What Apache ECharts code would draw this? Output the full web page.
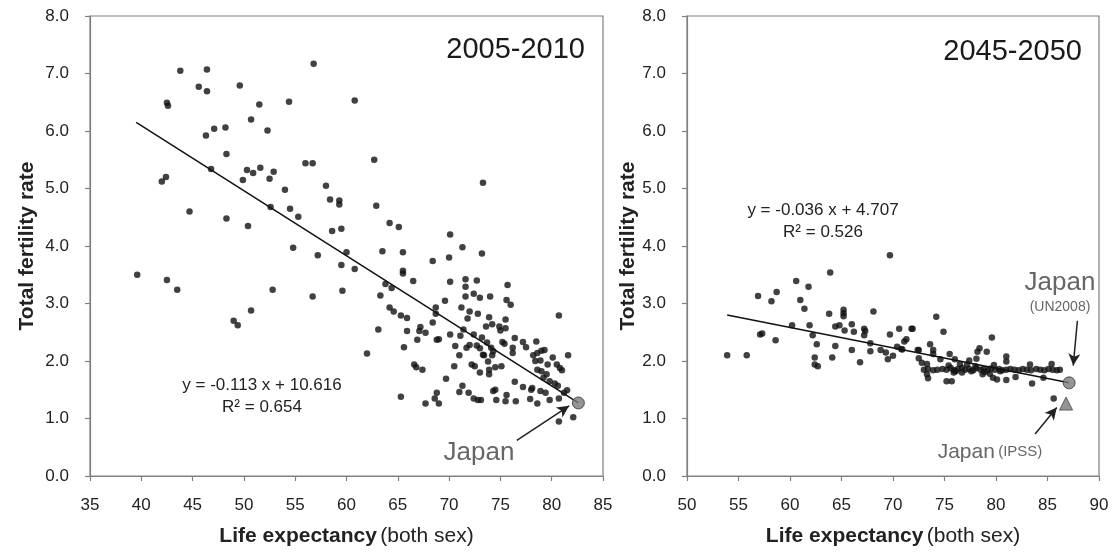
<!DOCTYPE html>
<html>
<head>
<meta charset="utf-8">
<script src="https://cdn.jsdelivr.net/npm/echarts/dist/echarts.min.js"></script>
<style>
html,body{margin:0;padding:0;background:#fff;}
#c{width:1117px;height:552px;}
</style>
</head>
<body>
<div id="c"></div>
<script>
// ---------- data ----------
var leftPts = [
[43.8,7.05],[46.4,7.07],[56.8,7.17],[45.6,6.77],[46.4,6.69],[49.6,6.79],[42.5,6.49],[42.6,6.44],[51.5,6.46],[54.4,6.51],
[60.8,6.53],[50.7,6.20],[52.3,6.01],[46.3,5.92],[47.1,6.04],[48.2,6.06],[48.3,5.60],[56.0,5.44],[56.7,5.44],[46.8,5.34],
[42.0,5.12],[42.4,5.20],[50.3,5.32],[50.9,5.27],[51.6,5.36],[52.9,5.29],[49.9,5.15],[52.5,5.17],[54.0,4.98],[58.0,5.05],
[58.4,4.81],[59.3,4.79],[59.3,4.72],[52.6,4.68],[54.5,4.65],[55.3,4.51],[44.7,4.60],[48.3,4.48],[50.4,4.35],[58.6,4.26],
[59.5,4.30],[54.8,3.97],[57.2,3.84],[59.5,3.67],[60.0,3.89],[60.8,3.60],[39.6,3.50],[42.5,3.41],[43.5,3.24],[52.8,3.24],
[59.6,3.22],[56.7,3.12],[62.7,5.50],[62.9,4.70],[73.3,5.10],[49.0,2.70],[49.4,2.62],[50.7,2.88],
[64.2,4.40],[65.1,4.33],[70.1,4.20],[71.3,3.98],[73.2,3.87],[63.5,3.91],[65.5,3.89],[65.5,3.57],[65.5,3.52],[68.4,3.74],
[70.0,3.80],[66.5,3.39],[63.8,3.34],[64.4,3.27],[63.3,3.14],[70.1,3.38],[71.6,3.42],[71.6,3.29],[72.7,3.40],[72.4,3.17],
[73.0,3.10],[71.6,3.12],[74.0,3.12],[75.7,3.32],[75.6,3.06],[76.0,2.98],[69.6,3.05],[68.7,2.93],[68.7,2.82],[71.2,2.93],
[72.0,2.86],[72.8,2.82],[73.9,2.76],[75.5,2.72],[71.8,2.74],[80.7,2.79],[64.2,2.93],[64.6,2.86],[65.3,2.79],[65.9,2.75],
[63.1,2.55],[65.9,2.52],[67.2,2.59],[67.1,2.52],[67.7,2.49],[68.4,2.67],[66.9,2.37],[65.6,2.24],[68.8,2.37],[69.0,2.38],
[70.1,2.46],[71.1,2.44],[71.4,2.55],[72.4,2.46],[73.2,2.41],[73.6,2.60],[74.2,2.64],[74.9,2.60],[75.0,2.53],[75.5,2.57],
[70.6,2.26],[71.7,2.23],[72.0,2.28],[72.7,2.27],[73.7,2.32],[74.1,2.23],[75.2,2.33],[75.4,2.30],[76.2,2.23],[76.2,2.14],
[76.4,2.40],[77.2,2.33],[77.5,2.24],[78.5,2.34],[78.2,2.10],[78.6,2.14],[79.0,2.18],[79.3,2.19],[78.4,2.00],[78.9,2.01],
[78.6,1.85],[79.0,1.82],[79.6,1.94],[79.5,1.77],[80.1,2.06],[80.5,1.94],[80.8,1.88],[81.0,1.84],[81.6,2.10],[79.2,1.71],
[79.8,1.65],[80.3,1.61],[80.6,1.57],[81.5,1.49],[78.9,1.48],[79.4,1.45],[79.8,1.32],[78.6,1.26],[77.9,1.34],[78.1,1.53],
[78.0,1.50],[77.2,1.55],[76.4,1.64],[76.5,1.30],[75.6,1.41],[75.5,1.30],[74.6,1.32],[74.3,1.48],[74.5,1.50],[73.1,1.32],
[72.8,1.32],[72.4,1.35],[71.9,1.45],[71.0,1.46],[71.3,1.57],[69.7,1.69],[68.8,1.45],[68.6,1.35],[69.0,1.26],[67.7,1.26],
[65.3,1.38],[62.0,2.13],[66.6,1.94],[66.8,1.89],[67.4,1.85],[70.5,1.91],[71.0,2.10],[72.2,1.94],[72.5,1.91],[73.0,1.80],
[73.4,2.10],[73.8,1.99],[73.9,1.85],[73.9,1.77],[74.5,1.89],[75.1,1.91],[74.3,2.17],[73.3,2.11],[74.2,2.10],[73.0,2.22],
[82.1,1.02],[80.7,0.95],[80.7,1.35],[81.2,1.45]
];
var rightPts = [
[53.9,2.10],[55.8,2.10],[56.9,3.13],[58.2,3.04],[58.7,3.20],[60.6,3.39],[61.8,3.29],[61.0,3.06],[61.4,2.91],[63.9,3.54],
[69.7,3.84],[57.1,2.46],[57.3,2.48],[58.6,2.36],[60.2,2.62],[61.9,2.62],[62.2,2.45],[62.6,2.29],[62.4,2.06],[62.4,1.94],
[62.7,1.91],[63.8,2.82],[64.4,2.60],[64.8,2.62],[65.2,2.89],[65.2,2.83],[65.2,2.78],[65.3,2.53],[64.4,2.26],[64.1,2.06],
[66.0,2.64],[66.2,2.51],[66.0,2.19],[66.8,1.98],[67.2,2.56],[67.3,2.52],[67.2,2.45],[67.8,2.31],[67.8,2.17],[68.1,2.86],
[68.8,2.19],[69.3,2.15],[69.5,2.03],[70.0,2.09],[69.7,2.46],[70.6,2.56],[70.4,2.25],[70.9,2.20],[71.1,2.34],[71.3,2.38],
[71.8,2.56],[72.4,2.19],
[74.9,2.51],[71.9,2.56],[70.8,2.21],[79.6,2.41],[73.6,2.29],[73.9,2.19],[72.5,2.19],[73.9,2.12],[75.5,2.12],[78.4,2.22],
[78.2,2.16],[79.1,2.16],[76.0,2.03],[77.4,2.01],[78.1,2.04],[81.0,2.08],[81.0,1.99],[74.6,2.03],[74.2,2.77],[72.5,2.05],
[72.8,1.97],[73.3,1.95],[76.5,1.95],[77.2,1.94],[83.3,1.94],[85.4,1.95],
[73.3,1.77],[75.2,1.65],[75.7,1.65],[75.9,1.80],[76.7,1.80],[78.7,1.77],[79.7,1.71],[80.1,1.68],[81.0,1.67],[81.9,1.72],
[83.5,1.61],[84.6,1.71],[85.6,1.35],[73.4,1.70],[79.4,1.78],
[73.0,1.85],[73.4,1.86],[73.9,1.84],[74.3,1.85],[74.8,1.86],[75.2,1.85],[75.6,1.88],[75.9,1.84],[76.3,1.86],[76.7,1.88],
[77.0,1.85],[77.4,1.86],[77.8,1.84],[78.1,1.88],[78.5,1.85],[78.8,1.86],[79.2,1.84],[79.5,1.87],[79.9,1.85],[80.3,1.86],
[80.6,1.84],[81.0,1.85],[81.4,1.86],[81.8,1.85],[82.2,1.84],[82.6,1.86],[83.0,1.85],[83.4,1.84],[83.9,1.86],[84.3,1.85],
[84.7,1.84],[85.1,1.86],[85.5,1.85],[85.9,1.84],[86.2,1.85],[76.1,1.82],[77.6,1.82],[78.9,1.81],[80.4,1.82],[75.4,1.92],
[78.0,1.91],[79.8,1.93]
];
var leftTrend = [[39.5,6.15],[82.6,1.27]];
var rightTrend = [[53.9,2.80],[87.1,1.62]];
var leftJapan = [[82.6,1.27]];
var rightJapanUN = [[87.1,1.62]];
var rightJapanIPSS = [[86.8,1.26]];
var leftXTicks = [35,85,5];
var rightXTicks = [50,90,5];
var yTicks = [0,8,1];

// ---------- chart ----------
var FONT = 'Liberation Sans, Arial, Helvetica, sans-serif';
var chart = echarts.init(document.getElementById('c'), null, {renderer:'canvas'});

function xAxisOf(ticks, gi){
  return {
    type:'value', gridIndex:gi, min:ticks[0], max:ticks[1], interval:ticks[2],
    axisLine:{show:true, onZero:false, lineStyle:{color:'#808080', width:1.2}},
    axisTick:{show:true, inside:false, length:5, lineStyle:{color:'#808080', width:1.2}},
    splitLine:{show:false},
    axisLabel:{fontSize:17, color:'#222', margin:21, fontFamily:FONT},
    name:'{b|Life expectancy} {n|(both sex)}', nameLocation:'middle', nameGap:50,
    nameTextStyle:{fontFamily:FONT, rich:{b:{fontSize:21, fontWeight:'bold', color:'#222', fontFamily:FONT}, n:{fontSize:21, color:'#222', fontFamily:FONT}}}
  };
}
function yAxisOf(gi, gap){
  return {
    type:'value', gridIndex:gi, min:yTicks[0], max:yTicks[1], interval:yTicks[2],
    axisLine:{show:true, onZero:false, lineStyle:{color:'#808080', width:1.2}},
    axisTick:{show:true, inside:false, length:5, lineStyle:{color:'#808080', width:1.2}},
    splitLine:{show:false},
    axisLabel:{fontSize:17, color:'#222', margin:21, fontFamily:FONT, formatter:function(v){return v.toFixed(1);}},
    name:'Total fertility rate', nameLocation:'middle', nameGap:gap, nameRotate:90,
    nameTextStyle:{fontSize:21, fontWeight:'bold', color:'#222', fontFamily:FONT}
  };
}
var dot = {color:'#111'};
var arrowLine = {color:'#222', width:1.5, type:'solid'};

var option = {
  animation:false,
  backgroundColor:'#fff',
  textStyle:{fontFamily:FONT},
  grid:[
    {left:90, top:16, width:513, height:463, show:true, borderColor:'#808080', borderWidth:1.2, containLabel:false},
    {left:687, top:16, width:412, height:463, show:true, borderColor:'#808080', borderWidth:1.2, containLabel:false}
  ],
  xAxis:[xAxisOf(leftXTicks,0), xAxisOf(rightXTicks,1)],
  yAxis:[yAxisOf(0,52), yAxisOf(1,30)],
  series:[
    {type:'scatter', xAxisIndex:0, yAxisIndex:0, data:leftPts, symbolSize:6.5, itemStyle:dot, silent:true,
     markLine:{silent:true, symbol:['none','arrow'], symbolSize:[9,12], label:{show:false}, lineStyle:arrowLine,
       data:[[{coord:[76.6,0.62]},{coord:[81.7,1.22]}]]}},
    {type:'line', xAxisIndex:0, yAxisIndex:0, data:leftTrend, symbol:'none', lineStyle:{color:'#111', width:1.5}, silent:true},
    {type:'scatter', xAxisIndex:0, yAxisIndex:0, data:leftJapan, symbolSize:12, itemStyle:{color:'#7a7a7a', borderColor:'#333', borderWidth:1}, z:5},
    {type:'scatter', xAxisIndex:1, yAxisIndex:1, data:rightPts, symbolSize:6.5, itemStyle:dot, silent:true,
     markLine:{silent:true, symbol:['none','arrow'], symbolSize:[9,12], label:{show:false}, lineStyle:arrowLine,
       data:[
         [{coord:[87.9,2.70]},{coord:[87.5,1.92]}],
         [{coord:[83.8,0.73]},{coord:[85.9,1.19]}]
       ]}},
    {type:'line', xAxisIndex:1, yAxisIndex:1, data:rightTrend, symbol:'none', lineStyle:{color:'#111', width:1.5}, silent:true},
    {type:'scatter', xAxisIndex:1, yAxisIndex:1, data:rightJapanUN, symbolSize:12, itemStyle:{color:'#7a7a7a', borderColor:'#333', borderWidth:1}, z:5},
    {type:'scatter', xAxisIndex:1, yAxisIndex:1, data:rightJapanIPSS, symbol:'triangle', symbolSize:13, itemStyle:{color:'#7a7a7a', borderColor:'#444', borderWidth:1}, z:5}
  ],
  graphic:[
    {type:'text', x:585, y:50, style:{text:'2005-2010', fontSize:29, fontFamily:FONT, fill:'#1a1a1a', align:'right', verticalAlign:'middle'}},
    {type:'text', x:1082, y:52, style:{text:'2045-2050', fontSize:29, fontFamily:FONT, fill:'#1a1a1a', align:'right', verticalAlign:'middle'}},
    {type:'text', x:262, y:385, style:{text:'y = -0.113 x + 10.616', fontSize:17, fontFamily:FONT, fill:'#222', align:'center', verticalAlign:'middle'}},
    {type:'text', x:262, y:407, style:{text:'R\u00b2 = 0.654', fontSize:17, fontFamily:FONT, fill:'#222', align:'center', verticalAlign:'middle'}},
    {type:'text', x:823, y:210, style:{text:'y = -0.036 x + 4.707', fontSize:17, fontFamily:FONT, fill:'#222', align:'center', verticalAlign:'middle'}},
    {type:'text', x:823, y:232, style:{text:'R\u00b2 = 0.526', fontSize:17, fontFamily:FONT, fill:'#222', align:'center', verticalAlign:'middle'}},
    {type:'text', x:479, y:453, style:{text:'Japan', fontSize:26, fontFamily:FONT, fill:'#666', align:'center', verticalAlign:'middle'}},
    {type:'text', x:1060, y:283, style:{text:'Japan', fontSize:26, fontFamily:FONT, fill:'#666', align:'center', verticalAlign:'middle'}},
    {type:'text', x:1060, y:307, style:{text:'(UN2008)', fontSize:14, fontFamily:FONT, fill:'#666', align:'center', verticalAlign:'middle'}},
    {type:'text', x:990, y:452, style:{text:'{a|Japan} {b|(IPSS)}', fontFamily:FONT, fill:'#666', align:'center', verticalAlign:'middle',
       rich:{a:{fontSize:21, fill:'#666', fontFamily:FONT}, b:{fontSize:15, fill:'#666', fontFamily:FONT}}}}
  ]
};
chart.setOption(option);
</script>
</body>
</html>
